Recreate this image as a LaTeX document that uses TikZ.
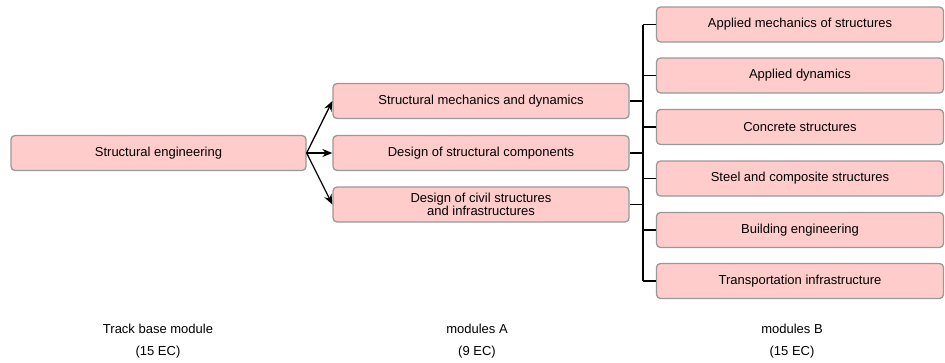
\documentclass[tikz,border=0pt]{standalone}
\usepackage{fontspec}
\setmainfont{Liberation Sans}
\usetikzlibrary{arrows.meta}
\definecolor{boxfill}{HTML}{FFCCCC}
\definecolor{boxline}{HTML}{999999}
\begin{document}
\begin{tikzpicture}[x=1pt,y=-1pt,
  modbox/.style={draw=boxline, fill=boxfill, line width=1.3pt, rounded corners=4pt,
    minimum height=35pt, inner sep=0pt, align=center,
    font=\fontsize{13}{13.5}\selectfont},
  link/.style={line width=1.3pt, black},
  arr/.style={link, -{Stealth[length=10pt,width=8pt]}},
  lbl/.style={align=center, font=\fontsize{13}{22}\selectfont}]
\useasboundingbox (0,0) rectangle (945,362);
\node[modbox, minimum width=295pt] (base) at (158.5,153) {Structural engineering};
\node[modbox, minimum width=296pt] (a1) at (481,101) {Structural mechanics and dynamics};
\node[modbox, minimum width=296pt] (a2) at (481,153) {Design of structural components};
\node[modbox, minimum width=296pt] (a3) at (481,204.5) {Design of civil structures\\and infrastructures};
\foreach \n/\y/\t in {b1/24.5/Applied mechanics of structures,
  b2/75.5/Applied dynamics,
  b3/127/Concrete structures,
  b4/178.5/Steel and composite structures,
  b5/230/Building engineering,
  b6/281/Transportation infrastructure}
  \node[modbox, minimum width=287pt] (\n) at (800,\y) {\t};
\coordinate (bus) at (643,0);
\draw[arr] (base.east) -- (a1.west);
\draw[arr] (base.east) -- (a2.west);
\draw[arr] (base.east) -- (a3.west);
\foreach \n in {a1,a2,a3} \draw[link] (\n.east) -- (\n.east -| bus);
\foreach \n in {b1,b2,b3,b4,b5,b6} \draw[link] (\n.west) -- (\n.west -| bus);
\draw[link] (b1.west -| bus) -- (b6.west -| bus);
\node[lbl] (l1) at (158,341) {Track base module\\(15 EC)};
\node[lbl] (l2) at (477,341) {modules A\\(9 EC)};
\node[lbl] (l3) at (792,341) {modules B\\(15 EC)};
\end{tikzpicture}
\end{document}
